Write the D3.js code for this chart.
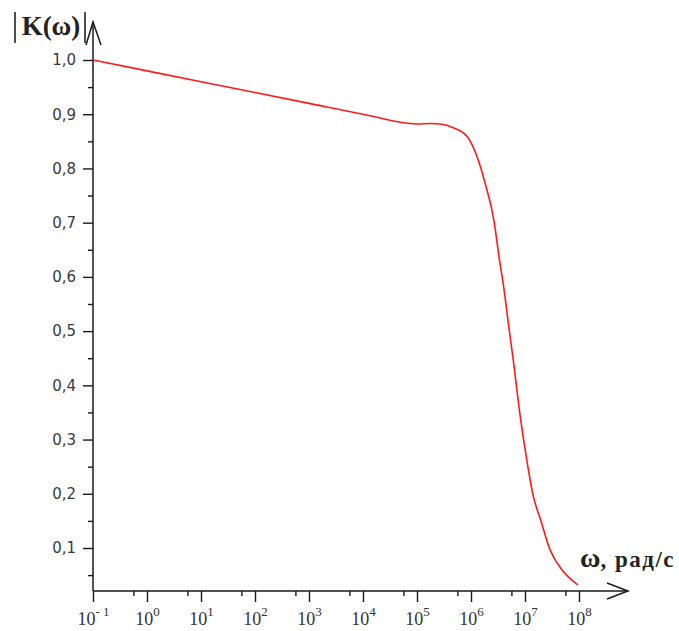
<!DOCTYPE html>
<html>
<head>
<meta charset="utf-8">
<script src="https://cdn.jsdelivr.net/npm/d3@7"></script>
<style>
  html, body { margin: 0; padding: 0; background: #fff; }
  svg { display: block; }
</style>
</head>
<body>
<svg id="chart" width="679" height="631"></svg>
<script>
// Frequency response magnitude |K(ω)| versus angular frequency (log scale)
const omega = [0.1, 1, 10, 100, 1e3, 1e4, 1e5, 1.8e5, 2.7e5, 4.7e5, 8.5e5, 1.29e6, 1.8e6,
               2.7e6, 3.3e6, 4.1e6, 4.9e6, 6.0e6, 8.1e6, 1.1e7, 1.4e7, 2.0e7, 2.9e7, 5.0e7, 9.5e7];
const magnitude = [1.0, 0.98, 0.96, 0.94, 0.92, 0.90, 0.882, 0.883, 0.882, 0.875, 0.859, 0.822, 0.775,
                   0.70, 0.637, 0.576, 0.515, 0.45, 0.345, 0.257, 0.199, 0.148, 0.097, 0.058, 0.032];

const xMajorExponents = [-1, 0, 1, 2, 3, 4, 5, 6, 7, 8];
const xMinorTicks = [0.56, 5.6, 56, 560, 5600, 5.6e4, 5.6e5, 5.6e6, 5.6e7];
const yMajorTicks = [0.1, 0.2, 0.3, 0.4, 0.5, 0.6, 0.7, 0.8, 0.9, 1.0];
const yMinorTicks = [0.05, 0.15, 0.25, 0.35, 0.45, 0.55, 0.65, 0.75, 0.85, 0.95];

const yLabel = "K(ω)";
const xLabelSymbol = "ω";
const xLabelUnits = ", рад/с";

const svg = d3.select("#chart");
const ox = 93, oy = 591;          // axes origin
const x = d3.scaleLog().domain([0.1, 1e8]).range([ox, 579]);
const y = d3.scaleLinear().domain([0.0207, 1.0]).range([oy, 60]);

const ink = "#1a1a1a";
const tickFont = "'DejaVu Sans', Verdana, sans-serif";
const serif = "'Liberation Serif', 'Times New Roman', serif";

// Y axis: major and minor ticks
const yAxisMajor = d3.axisLeft(y).tickValues(yMajorTicks).tickSize(10).tickPadding(7)
  .tickFormat(d => d3.format(".1f")(d).replace(".", ","));
const gy = svg.append("g").attr("transform", `translate(${ox},0)`).call(yAxisMajor);
gy.select(".domain").remove();
gy.selectAll("line").attr("stroke", ink).attr("stroke-width", 1.4);
gy.selectAll("text").attr("font-family", tickFont).attr("font-size", 15).attr("fill", "#3a3a3a");

const gyMinor = svg.append("g").attr("transform", `translate(${ox},0)`)
  .call(d3.axisLeft(y).tickValues(yMinorTicks).tickSize(5).tickFormat(""));
gyMinor.select(".domain").remove();
gyMinor.selectAll("line").attr("stroke", ink).attr("stroke-width", 1.4);

// X axis: decades with superscript exponents
const gx = svg.append("g").attr("transform", `translate(0,${oy})`)
  .call(d3.axisBottom(x).tickValues(xMajorExponents.map(e => Math.pow(10, e))).tickSize(11).tickFormat(""));
gx.select(".domain").remove();
gx.selectAll("line").attr("stroke", ink).attr("stroke-width", 1.4);
gx.selectAll(".tick").each(function(d, i) {
  const t = d3.select(this).append("text")
    .attr("y", 34).attr("text-anchor", "middle")
    .attr("font-family", serif).attr("fill", "#333").attr("font-size", 18);
  t.append("tspan").text("10");
  t.append("tspan").attr("dy", -9).attr("font-size", 13).text(String(xMajorExponents[i]).replace("-", "- "));
});

const gxMinor = svg.append("g").attr("transform", `translate(0,${oy})`)
  .call(d3.axisBottom(x).tickValues(xMinorTicks).tickSize(5).tickFormat(""));
gxMinor.select(".domain").remove();
gxMinor.selectAll("line").attr("stroke", ink).attr("stroke-width", 1.4);

// Axis lines with open arrowheads
const axes = svg.append("g").attr("stroke", ink).attr("stroke-width", 1.5).attr("fill", "none");
axes.append("line").attr("x1", ox).attr("y1", oy).attr("x2", 628).attr("y2", oy);
axes.append("path").attr("d", `M607,583 L628,${oy} L607,599`);
axes.append("line").attr("x1", ox).attr("y1", oy).attr("x2", ox).attr("y2", 22);
axes.append("path").attr("d", `M86,45 L${ox},22 L101,45`);

// Response curve
const line = d3.line()
  .x((d, i) => x(omega[i]))
  .y(d => y(d))
  .curve(d3.curveMonotoneX);
svg.append("path")
  .datum(magnitude)
  .attr("d", line)
  .attr("fill", "none")
  .attr("stroke", "#ff1a1a")
  .attr("stroke-width", 1.6);

// Axis titles
const yt = svg.append("g");
yt.append("text").attr("x", 51).attr("y", 35).attr("text-anchor", "middle")
  .attr("font-family", serif).attr("font-weight", "bold").attr("font-size", 27).attr("fill", "#222")
  .text(yLabel);
yt.append("line").attr("x1", 15).attr("y1", 12).attr("x2", 15).attr("y2", 43).attr("stroke", "#222").attr("stroke-width", 1.6);
yt.append("line").attr("x1", 85).attr("y1", 12).attr("x2", 85).attr("y2", 43).attr("stroke", "#222").attr("stroke-width", 1.6);

const xt = svg.append("text").attr("x", 580).attr("y", 567)
  .attr("font-family", serif).attr("font-weight", "bold").attr("fill", "#222");
xt.append("tspan").attr("font-size", 28).text(xLabelSymbol);
xt.append("tspan").attr("font-size", 23).attr("letter-spacing", 1.5).text(xLabelUnits);
</script>
</body>
</html>
